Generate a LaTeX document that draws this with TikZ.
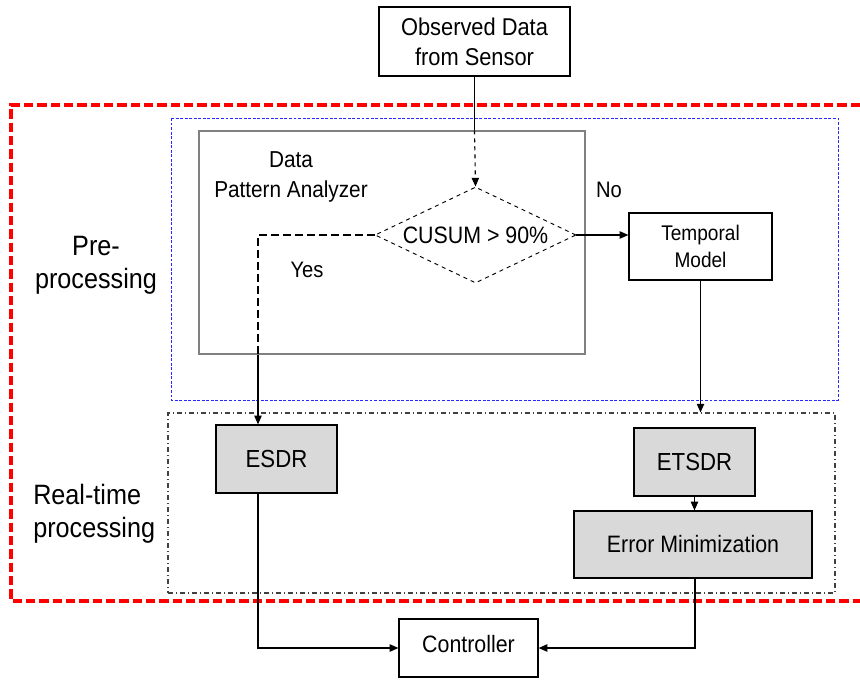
\documentclass[tikz,border=0pt]{standalone}
\usepackage{fontspec}
\setmainfont{Liberation Sans}[FakeStretch=0.9]
\usetikzlibrary{arrows.meta, shapes.geometric, positioning, calc}
\definecolor{FrameRed}{RGB}{255,0,0}
\definecolor{FrameBlue}{RGB}{40,40,255}
\definecolor{BoxGray}{RGB}{217,217,217}
\newcommand{\fs}[2]{\fontsize{#1}{#2}\selectfont}

\begin{document}
\begin{tikzpicture}[
    x=0.75pt, y=-0.75pt,
    box/.style={draw=black, line width=0.9pt, inner sep=0pt, align=center},
    gbox/.style={box, fill=BoxGray},
    dec/.style={diamond, draw=black, dashed, line width=0.7pt, inner sep=0pt,
                aspect=2.09, minimum width=150.75pt, minimum height=72pt},
    lbl/.style={inner sep=0pt, align=center},
    conn/.style={line width=0.85pt},
    arr/.style={conn, -{Triangle[length=6.5pt,width=5.5pt]}}
  ]
  \useasboundingbox (0,0) rectangle (860,679);
  % frames
  \draw[FrameRed, line width=2.6pt, dash pattern=on 7pt off 3pt]
    (860,105) -- (11,105) -- (11,601) -- (860,601);
  \draw[FrameBlue, line width=0.7pt, dash pattern=on 2.2pt off 1.2pt]
    (171,118) rectangle (838,400);
  \node[draw=black!75, line width=0.8pt, dash pattern=on 4pt off 2pt on 1pt off 2pt,
        minimum width=500.25pt, minimum height=135pt, inner sep=0pt]
    (rt) at (501.5,503) {};
  \node[draw=gray, line width=0.8pt, minimum width=289.5pt, minimum height=167.25pt,
        inner sep=0pt] (dpa) at (392,242.5) {};
  % blocks
  \node[box, minimum width=143.25pt, minimum height=51.75pt, font=\fs{18.2}{22.5}]
    (obs) at (474.5,41.5) {Observed Data\\from Sensor};
  \node[dec, font=\fs{17.8}{21}] (cusum) at (475.5,235) {CUSUM > 90\%};
  \node[box, minimum width=107.25pt, minimum height=50.25pt, font=\fs{15.9}{20}]
    (tm) at (700.5,246.5) {Temporal\\Model};
  \node[gbox, minimum width=90.75pt, minimum height=51pt, font=\fs{18.5}{22}]
    (esdr) at (276.5,459) {ESDR};
  \node[gbox, minimum width=90.75pt, minimum height=51pt, font=\fs{18.5}{22}]
    (etsdr) at (694.5,462) {ETSDR};
  \node[gbox, minimum width=178.5pt, minimum height=50.25pt, font=\fs{17.8}{22}]
    (errmin) at (693,544.5) {Error Minimization};
  \node[box, minimum width=104.25pt, minimum height=43.5pt, font=\fs{17.8}{22}]
    (ctrl) at (468.5,648) {\raisebox{5.5pt}{Controller}};
  % labels
  \node[lbl, font=\fs{17.3}{23}] (dpalbl) at (291,177) {Data\\Pattern Analyzer};
  \node[lbl, font=\fs{16.8}{20}] (no) at (609,190) {No};
  \node[lbl, font=\fs{16.8}{20}] (yes) at (307,270) {Yes};
  \node[lbl, font=\fs{21}{24.75}] (pre) at (96,265) {Pre-\\processing};
  \node[lbl, align=left, anchor=west, font=\fs{21}{24.75}] (real) at (33,514)
    {Real-time\\processing};
  % connectors
  \coordinate (yes1) at (258,235);
  \draw[conn] (obs.south) -- (obs.south |- dpa.north);
  \draw[arr, dashed] (obs.south |- dpa.north) -- (cusum.north);
  \draw[arr] (cusum.east) -- (cusum.east -| tm.west);
  \draw[conn, dash pattern=on 6pt off 3pt] (cusum.west) -- (yes1) -- (yes1 |- dpa.south);
  \draw[arr] (yes1 |- dpa.south) -- (yes1 |- esdr.north);
  \draw[arr] (tm.south) -- (tm.south |- rt.north);
  \draw[arr] (etsdr.south) -- (etsdr.south |- errmin.north);
  \draw[arr] (yes1 |- esdr.south) |- (ctrl.west);
  \draw[arr] ([xshift=1.5pt]errmin.south) |- (ctrl.east);
\end{tikzpicture}
\end{document}
